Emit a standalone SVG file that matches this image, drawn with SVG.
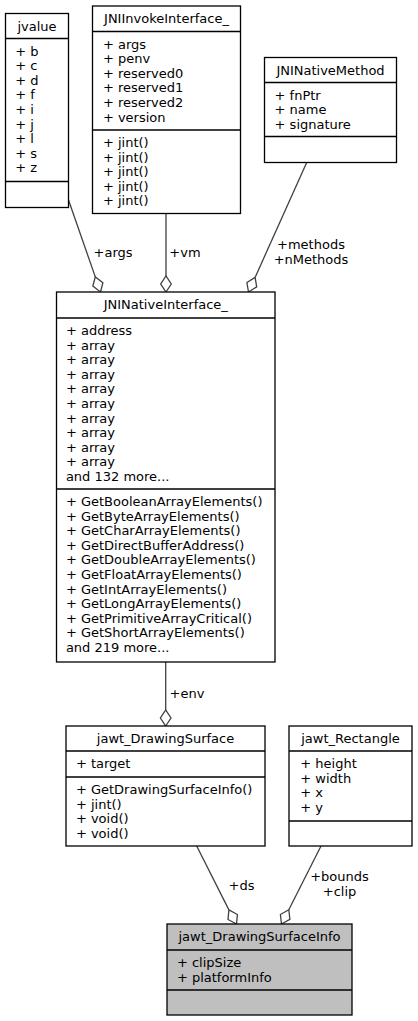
<svg xmlns="http://www.w3.org/2000/svg" width="418" height="1021" viewBox="0 0 418 1021">
<style>
text{font-family:"DejaVu Sans","Liberation Sans",sans-serif;font-size:13px;fill:#000}
.t{text-anchor:middle}
.m{text-anchor:middle}
.box{fill:#fff;stroke:#000;stroke-width:1.3}
.hl{fill:#bfbfbf;stroke:#000;stroke-width:1.3}
.div{stroke:#000;stroke-width:1.3}
.e{fill:none;stroke:#404040;stroke-width:1.3}
.d{fill:#fff;stroke:#404040;stroke-width:1.3}
</style>
<rect width="418" height="1021" fill="#fff"/>
<g id="connectors">
<path class="e" d="M68.5,200 L95.3,276.9"/>
<polygon class="d" points="100.5,292 102.9,282.7 95.3,276.9 92.8,286.1"/>
<text x="93.6" y="257">+args</text>
<path class="e" d="M166,213.5 L166,276"/>
<polygon class="d" points="166,292 171.3,284 166,276 160.7,284"/>
<text x="169.3" y="257">+vm</text>
<path class="e" d="M306.7,162.5 L255.1,277.4"/>
<polygon class="d" points="248.5,292 246.9,282.5 255.1,277.4 256.7,286.9"/>
<text class="m" x="311" y="248.5">+methods</text>
<text class="m" x="311" y="263.5">+nMethods</text>
<path class="e" d="M165.7,662 L165.7,710"/>
<polygon class="d" points="165.7,726 171,718 165.7,710 160.4,718"/>
<text x="169.6" y="697.5">+env</text>
<path class="e" d="M196.7,846 L228.9,909.9"/>
<polygon class="d" points="236.5,924 237.4,914.5 228.9,909.9 228,919.5"/>
<text x="228.6" y="889.5">+ds</text>
<path class="e" d="M321,846 L288.8,909.8"/>
<polygon class="d" points="281.5,924 280.4,914.5 288.8,909.8 289.9,919.3"/>
<text class="m" x="339.5" y="881">+bounds</text>
<text class="m" x="339.5" y="895.5">+clip</text>
</g>
<g id="jvalue">
<rect class="box" x="5.5" y="13.5" width="63" height="194"/>
<line class="div" x1="5.5" y1="38.5" x2="68.5" y2="38.5"/>
<line class="div" x1="5.5" y1="181.5" x2="68.5" y2="181.5"/>
<text class="t" x="37" y="30.5">jvalue</text>
<text x="15.3" y="55.5">+ b</text>
<text x="15.3" y="70.1">+ c</text>
<text x="15.3" y="84.7">+ d</text>
<text x="15.3" y="99.3">+ f</text>
<text x="15.3" y="113.9">+ i</text>
<text x="15.3" y="128.5">+ j</text>
<text x="15.3" y="143.1">+ l</text>
<text x="15.3" y="157.7">+ s</text>
<text x="15.3" y="172.3">+ z</text>
</g>
<g id="JNIInvokeInterface_">
<rect class="box" x="92.5" y="6" width="148" height="207.5"/>
<line class="div" x1="92.5" y1="31.5" x2="240.5" y2="31.5"/>
<line class="div" x1="92.5" y1="130" x2="240.5" y2="130"/>
<text class="t" x="166.5" y="23">JNIInvokeInterface_</text>
<text x="102.9" y="48.5">+ args</text>
<text x="102.9" y="63.1">+ penv</text>
<text x="102.9" y="77.7">+ reserved0</text>
<text x="102.9" y="92.3">+ reserved1</text>
<text x="102.9" y="106.9">+ reserved2</text>
<text x="102.9" y="121.5">+ version</text>
<text x="102.9" y="147">+ jint()</text>
<text x="102.9" y="161.6">+ jint()</text>
<text x="102.9" y="176.2">+ jint()</text>
<text x="102.9" y="190.8">+ jint()</text>
<text x="102.9" y="205.4">+ jint()</text>
</g>
<g id="JNINativeMethod">
<rect class="box" x="264.5" y="57.5" width="132" height="105"/>
<line class="div" x1="264.5" y1="82.5" x2="396.5" y2="82.5"/>
<line class="div" x1="264.5" y1="136.5" x2="396.5" y2="136.5"/>
<text class="t" x="330.5" y="74.5">JNINativeMethod</text>
<text x="274.6" y="99.5">+ fnPtr</text>
<text x="274.6" y="114.1">+ name</text>
<text x="274.6" y="128.7">+ signature</text>
</g>
<g id="JNINativeInterface_">
<rect class="box" x="56.5" y="292" width="218.5" height="370"/>
<line class="div" x1="56.5" y1="318" x2="275" y2="318"/>
<line class="div" x1="56.5" y1="489" x2="275" y2="489"/>
<text class="t" x="165.75" y="309">JNINativeInterface_</text>
<text x="65.9" y="335">+ address</text>
<text x="65.9" y="349.6">+ array</text>
<text x="65.9" y="364.2">+ array</text>
<text x="65.9" y="378.8">+ array</text>
<text x="65.9" y="393.4">+ array</text>
<text x="65.9" y="408">+ array</text>
<text x="65.9" y="422.6">+ array</text>
<text x="65.9" y="437.2">+ array</text>
<text x="65.9" y="451.8">+ array</text>
<text x="65.9" y="466.4">+ array</text>
<text x="65.9" y="481">and 132 more...</text>
<text x="65.9" y="506">+ GetBooleanArrayElements()</text>
<text x="65.9" y="520.6">+ GetByteArrayElements()</text>
<text x="65.9" y="535.2">+ GetCharArrayElements()</text>
<text x="65.9" y="549.8">+ GetDirectBufferAddress()</text>
<text x="65.9" y="564.4">+ GetDoubleArrayElements()</text>
<text x="65.9" y="579">+ GetFloatArrayElements()</text>
<text x="65.9" y="593.6">+ GetIntArrayElements()</text>
<text x="65.9" y="608.2">+ GetLongArrayElements()</text>
<text x="65.9" y="622.8">+ GetPrimitiveArrayCritical()</text>
<text x="65.9" y="637.4">+ GetShortArrayElements()</text>
<text x="65.9" y="652">and 219 more...</text>
</g>
<g id="jawt_DrawingSurface">
<rect class="box" x="66" y="726" width="199" height="120"/>
<line class="div" x1="66" y1="751" x2="265" y2="751"/>
<line class="div" x1="66" y1="777" x2="265" y2="777"/>
<text class="t" x="165.5" y="743">jawt_DrawingSurface</text>
<text x="75.9" y="768">+ target</text>
<text x="75.9" y="794">+ GetDrawingSurfaceInfo()</text>
<text x="75.9" y="808.6">+ jint()</text>
<text x="75.9" y="823.2">+ void()</text>
<text x="75.9" y="837.8">+ void()</text>
</g>
<g id="jawt_Rectangle">
<rect class="box" x="289" y="726" width="123" height="120"/>
<line class="div" x1="289" y1="751" x2="412" y2="751"/>
<line class="div" x1="289" y1="821" x2="412" y2="821"/>
<text class="t" x="350.5" y="743">jawt_Rectangle</text>
<text x="300.3" y="768">+ height</text>
<text x="300.3" y="782.6">+ width</text>
<text x="300.3" y="797.2">+ x</text>
<text x="300.3" y="811.8">+ y</text>
</g>
<g id="jawt_DrawingSurfaceInfo">
<rect class="hl" x="167" y="924" width="185" height="91"/>
<line class="div" x1="167" y1="950" x2="352" y2="950"/>
<line class="div" x1="167" y1="990" x2="352" y2="990"/>
<text class="t" x="259.5" y="941">jawt_DrawingSurfaceInfo</text>
<text x="176.9" y="967">+ clipSize</text>
<text x="176.9" y="981.6">+ platformInfo</text>
</g>
</svg>
